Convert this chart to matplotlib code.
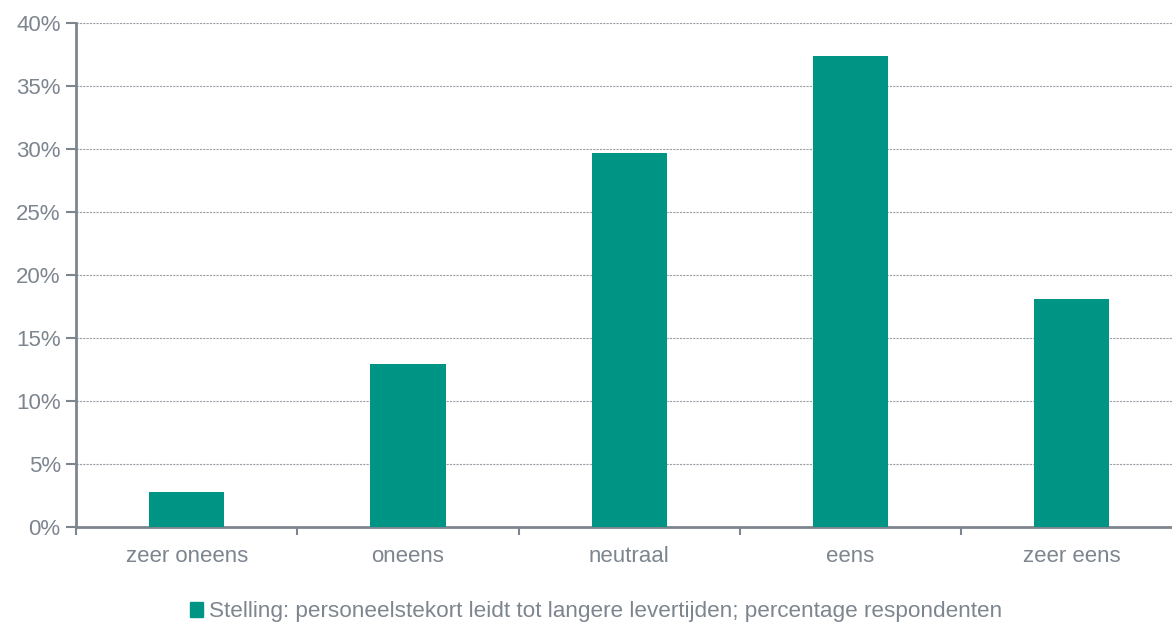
import matplotlib.pyplot as plt
import matplotlib.ticker as mticker
from matplotlib.patches import Patch

categories = ['zeer oneens', 'oneens', 'neutraal', 'eens', 'zeer eens']
values = [2.8, 12.95, 29.7, 37.35, 18.1]
series_name = 'Stelling: personeelstekort leidt tot langere levertijden; percentage respondenten'

teal = '#009485'
grey = '#7d858f'

plt.rcParams['font.family'] = ['Liberation Sans', 'DejaVu Sans']

fig = plt.figure(figsize=(11.72, 6.26), dpi=100)
# plot area runs a little past the right edge of the picture, as in the original
ax = fig.add_axes([76 / 1172, 1 - 527 / 626, (1182.5 - 76) / 1172, (527 - 23) / 626])

x = list(range(len(categories)))
ax.bar(x, values, width=0.34, color=teal, zorder=3)

ax.set_xlim(-0.5, len(categories) - 0.5)
ax.set_ylim(0, 40)
ax.yaxis.set_major_locator(mticker.MultipleLocator(5))
ax.yaxis.set_major_formatter(mticker.FuncFormatter(lambda v, p: '%d%%' % v))
ax.grid(axis='y', linestyle=(0, (2, 1)), linewidth=0.8, color='#9aa0a8', zorder=0)

# category labels in the middle, tick marks on the boundaries
ax.set_xticks(x)
ax.set_xticklabels(categories)
ax.set_xticks([i - 0.5 for i in range(len(categories) + 1)], minor=True)
ax.tick_params(axis='x', which='major', length=0, pad=14, labelsize=16, labelcolor=grey)
ax.tick_params(axis='x', which='minor', length=6, width=1.5, color=grey, direction='out')
ax.tick_params(axis='y', length=7, width=1.5, color=grey, labelsize=16, labelcolor=grey, pad=4)

for s in ['top', 'right']:
    ax.spines[s].set_visible(False)
for s in ['left', 'bottom']:
    ax.spines[s].set_color(grey)
    ax.spines[s].set_linewidth(2)

handle = Patch(facecolor=teal, edgecolor=teal)
fig.legend([handle], [series_name], loc='center', bbox_to_anchor=(596 / 1172, 1 - 612 / 626),
           frameon=False, fontsize=16.2, labelcolor=grey, handlelength=0.6, handleheight=0.6,
           handletextpad=0.25)

fig.savefig('out.png', dpi=100)
